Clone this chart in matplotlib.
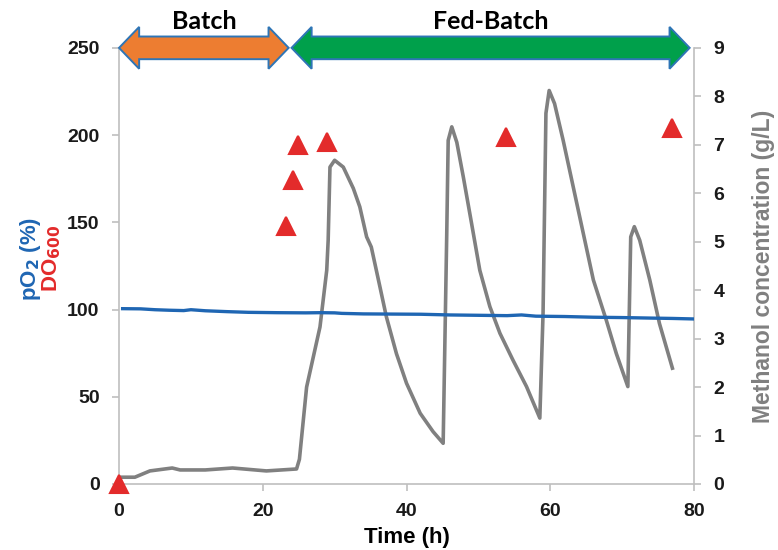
import matplotlib.pyplot as plt
from matplotlib.patches import Polygon
from matplotlib.transforms import blended_transform_factory

# DO600 samples (red triangles)
do_time = [0, 23.2, 24.2, 24.9, 28.9, 53.9, 77.0]
do_value = [0, 147.6, 174.5, 194.5, 196.0, 199.0, 204.0]

# pO2 (%) trace
po2_time = [0.5, 3, 5, 7, 9, 10, 12, 15, 18, 22, 26, 28, 30, 31, 34, 38, 42, 46, 50, 54, 56, 58, 62, 66, 70, 74, 77, 80]
po2_value = [100.5, 100.4, 99.9, 99.6, 99.4, 99.9, 99.3, 98.8, 98.4, 98.2, 98.1, 98.2, 98.1, 97.8, 97.5, 97.4, 97.3,
             96.9, 96.7, 96.5, 96.9, 96.2, 96.0, 95.6, 95.4, 95.1, 94.9, 94.6]

# methanol concentration (g/L) trace
meoh_time = [0.1, 2.2, 4.3, 7.4, 8.5, 12, 15.8, 20.5, 24.7, 25.1, 26.1, 27.96, 28.9, 29.1, 29.35, 30.0, 31.2, 32.6,
             33.5, 34.45, 35.1, 36.3, 37.2, 38.6, 40.0, 41.9, 43.7, 45.1, 45.6, 45.8, 46.3, 47.0, 47.9, 49.05,
             50.2, 51.6, 53.0, 54.8, 56.7, 58.55, 59.0, 59.4, 59.85, 60.6, 61.8, 63.2, 64.6, 66.0, 67.8, 69.2,
             70.8, 71.2, 71.7, 72.45, 73.85, 75.2, 77.0]
meoh_value = [0.14, 0.14, 0.27, 0.33, 0.29, 0.29, 0.33, 0.27, 0.31, 0.51, 2.0, 3.24, 4.41, 5.03, 6.54, 6.68, 6.54, 6.10,
              5.72, 5.10, 4.89, 4.07, 3.45, 2.69, 2.08, 1.46, 1.08, 0.84, 5.17, 7.09, 7.37, 7.05, 6.34, 5.38,
              4.41, 3.66, 3.11, 2.56, 2.01, 1.36, 3.52, 7.65, 8.12, 7.85, 7.09, 6.13, 5.17, 4.21, 3.38, 2.69,
              2.01, 5.10, 5.31, 5.03, 4.21, 3.31, 2.39]

phases = [("Batch", 0, 23.6, "#ed7d31"), ("Fed-Batch", 24.0, 79.4, "#00a04b")]

BLUE = "#1f66b3"
RED = "#e32b2b"
GRAY = "#808080"
AXIS_GRAY = "#bfbfbf"


def double_arrow(ax, x0, x1, color, head_len=2.8, shaft=0.026, head=0.048, yc=1.0):
    trans = blended_transform_factory(ax.transData, ax.transAxes)
    verts = [
        (x0, yc), (x0 + head_len, yc + head), (x0 + head_len, yc + shaft),
        (x1 - head_len, yc + shaft), (x1 - head_len, yc + head), (x1, yc),
        (x1 - head_len, yc - head), (x1 - head_len, yc - shaft),
        (x0 + head_len, yc - shaft), (x0 + head_len, yc - head),
    ]
    ax.add_patch(Polygon(verts, closed=True, facecolor=color, edgecolor="#2e75b6",
                         linewidth=1.4, transform=trans, clip_on=False, zorder=5))


plt.rcParams["font.family"] = ["Liberation Sans", "DejaVu Sans"]
plt.rcParams["font.weight"] = "bold"

fig = plt.figure(figsize=(7.78, 5.5), dpi=100)
ax = fig.add_axes([0.153, 0.12, 0.739, 0.793])
ax2 = ax.twinx()

ax2.plot(meoh_time, meoh_value, color=GRAY, linewidth=2.6, solid_joinstyle="round", zorder=2)
ax.plot(po2_time, po2_value, color=BLUE, linewidth=2.4, zorder=3)
ax.plot(do_time, do_value, linestyle="none", marker="^", markersize=13, color=RED,
        markeredgecolor=RED, markeredgewidth=1.5, clip_on=False, zorder=6)

ax.set_zorder(ax2.get_zorder() + 1)
ax.patch.set_visible(False)

ax.set_xlim(0, 80)
ax.set_ylim(0, 250)
ax2.set_ylim(0, 9)
ax.set_xticks([0, 20, 40, 60, 80])
ax.set_yticks(range(0, 251, 50))
ax2.set_yticks(range(0, 10))

for a in (ax, ax2):
    a.spines["top"].set_visible(False)
    for s in ("left", "right", "bottom"):
        a.spines[s].set_color(AXIS_GRAY)
        a.spines[s].set_linewidth(1.2)
    a.tick_params(colors=AXIS_GRAY, labelcolor="#1a1a1a", labelsize=14, length=5, width=1.2, pad=9)
ax.spines["right"].set_visible(False)
ax2.spines["left"].set_visible(False)
ax2.spines["bottom"].set_visible(False)
for lbl in ax.get_xticklabels() + ax.get_yticklabels() + ax2.get_yticklabels():
    lbl.set_fontweight("bold")

ax.set_xlabel("Time (h)", fontsize=16, fontweight="bold", labelpad=5)
ax2.set_ylabel("Methanol concentration (g/L)", fontsize=16.5, fontweight="bold", color=GRAY, labelpad=20)
fig.text(0.039, 0.53, r"pO$_\mathbf{2}$ (%)", rotation=90, color=BLUE, fontsize=16,
         fontweight="bold", ha="center", va="center")
fig.text(0.067, 0.53, r"DO$_\mathbf{600}$", rotation=90, color=RED, fontsize=16,
         fontweight="bold", ha="center", va="center")

for name, x0, x1, color in phases:
    double_arrow(ax, x0, x1, color)
    ax.text((x0 + x1) / 2, 1.06, name, transform=blended_transform_factory(ax.transData, ax.transAxes),
            ha="center", va="center", fontsize=18, fontweight="bold", family=["Lato", "DejaVu Sans"])

fig.savefig("out.png", dpi=100)
